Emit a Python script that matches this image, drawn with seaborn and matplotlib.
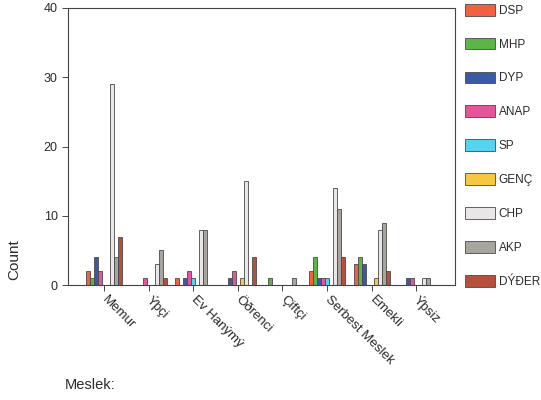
import matplotlib
matplotlib.use("Agg")
import matplotlib.pyplot as plt
import seaborn as sns
import pandas as pd

categories = ["Memur", "Ýþçi", "Ev Hanýmý", "Öðrenci", "Çiftçi",
              "Serbest Meslek", "Emekli", "Ýþsiz"]
parties = ["DSP", "MHP", "DYP", "ANAP", "SP", "GENÇ", "CHP", "AKP", "DÝÐER"]

DSP = [2, 0, 1, 0, 0, 2, 3, 0]
MHP = [1, 0, 0, 0, 1, 4, 4, 0]
DYP = [4, 0, 1, 1, 0, 1, 3, 1]
ANAP = [2, 1, 2, 2, 0, 1, 0, 1]
SP = [0, 0, 1, 0, 0, 1, 0, 0]
GENC = [0, 0, 0, 1, 0, 0, 1, 0]
CHP = [29, 3, 8, 15, 0, 14, 8, 1]
AKP = [4, 5, 8, 0, 1, 11, 9, 1]
DIGER = [7, 1, 0, 4, 0, 4, 2, 0]

series = [DSP, MHP, DYP, ANAP, SP, GENC, CHP, AKP, DIGER]
colors = ["#f2603f", "#5db54a", "#3a5aa8", "#e6559a", "#56d3ef",
          "#f7c742", "#e8e6e6", "#a8a49f", "#b4503c"]

rows = []
for p, vals in zip(parties, series):
    for c, v in zip(categories, vals):
        if v > 0:
            rows.append({"Meslek": c, "Parti": p, "Count": v})
df = pd.DataFrame(rows)

sns.set_style("ticks")
plt.rcParams["font.family"] = ["Liberation Sans", "DejaVu Sans"]
txt = "#2a2a2a"

fig = plt.figure(figsize=(5.41, 4.00), dpi=100)
ax = fig.add_axes([68 / 541, 1 - 285 / 400, 387 / 541, 277 / 400])

sns.barplot(data=df, x="Meslek", y="Count", hue="Parti", order=categories,
            hue_order=parties, palette=colors, width=0.81, saturation=1,
            edgecolor="#4a4a4a", linewidth=0.6, ax=ax, errorbar=None)

ax.set_xlim(-0.81, 7.87)
ax.set_ylim(0, 40)
ax.set_yticks([0, 10, 20, 30, 40])
for s in ax.spines.values():
    s.set_visible(True)
    s.set_color("#444444")
    s.set_linewidth(0.8)
ax.tick_params(direction="out", length=4, width=0.7, colors="#444444",
               labelcolor=txt, labelsize=9)
ax.tick_params(axis="x", pad=5)
ax.set_xticks(range(len(categories)))
ax.set_xticklabels(categories, rotation=-45, ha="left", va="center",
                   rotation_mode="anchor", fontsize=9.5, color=txt)
ax.set_xlabel("")
ax.set_ylabel("Count", fontsize=11, color=txt)
ax.yaxis.set_label_coords(-0.12, 0.09)

sns.move_legend(ax, "upper left", bbox_to_anchor=((465 - 68) / 387, 1.015),
                frameon=False, title=None, handlelength=2.5, handleheight=1.15,
                labelspacing=1.78, handletextpad=0.35, borderpad=0,
                borderaxespad=0, fontsize=8.5)
for t in ax.get_legend().get_texts():
    t.set_color(txt)

fig.text(65 / 541, 1 - 385 / 400, "Meslek:", fontsize=10.5, color=txt,
         ha="left", va="center")

fig.savefig("out.png", dpi=100, facecolor="white")
